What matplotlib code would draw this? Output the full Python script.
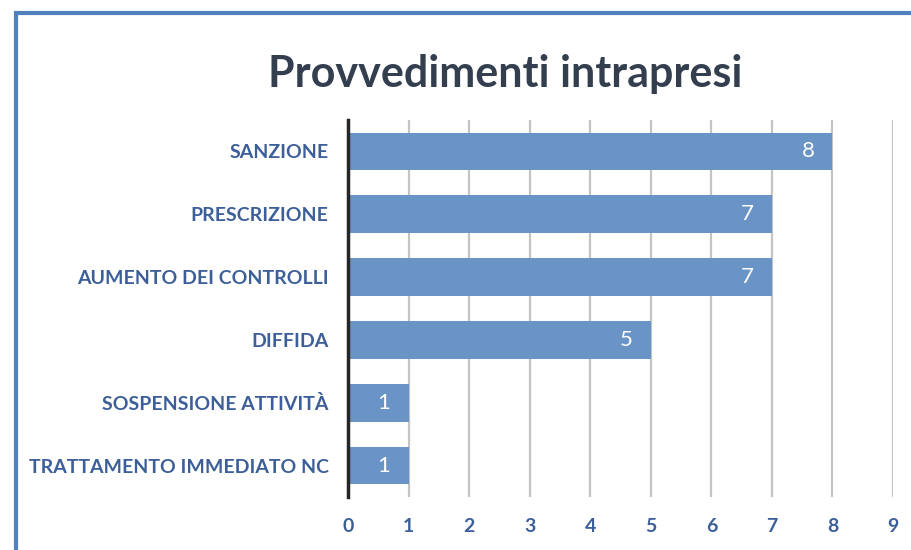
import matplotlib
matplotlib.use("Agg")
import matplotlib.pyplot as plt
from matplotlib.patches import Rectangle

categories = ["SANZIONE", "PRESCRIZIONE", "AUMENTO DEI CONTROLLI", "DIFFIDA",
              "SOSPENSIONE ATTIVITÀ", "TRATTAMENTO IMMEDIATO NC"]
values = [8, 7, 7, 5, 1, 1]
xticks = list(range(0, 10))
title = "Provvedimenti intrapresi"

bar_color = "#6A93C6"
label_color = "#3D5F99"
title_color = "#333F4F"

fig = plt.figure(figsize=(9.12, 5.5), dpi=100)
fig.patch.set_facecolor("white")

# outer frame
fig.patches.append(Rectangle((16/912, -0.1), 1.2, 1 - 13/550 + 0.1,
                             transform=fig.transFigure, fill=False,
                             edgecolor="#4F81BD", linewidth=3, zorder=0))

ax = fig.add_axes([348/912, 1 - 497/550, 545/912, 377/550])
ypos = list(range(len(categories)))
ax.barh(ypos, values, height=0.6, color=bar_color, zorder=3)
ax.set_ylim(len(categories) - 0.5, -0.5)
ax.set_xlim(0, 9)
ax.set_yticks(ypos)
ax.set_yticklabels(categories, fontfamily="Lato", fontweight="bold",
                   fontsize=14, color=label_color)
ax.set_xticks(xticks)
ax.set_xticklabels([str(t) for t in xticks], fontfamily="Lato",
                   fontweight="bold", fontsize=14, color=label_color)
ax.tick_params(axis="both", length=0)
ax.tick_params(axis="y", pad=14)
ax.tick_params(axis="x", pad=15)
ax.grid(axis="x", color="#C4C4C4", linewidth=1.6, zorder=0)
ax.set_axisbelow(True)
for s in ["top", "right", "bottom"]:
    ax.spines[s].set_visible(False)
ax.spines["left"].set_color("#262626")
ax.spines["left"].set_linewidth(2.5)
ax.spines["left"].set_zorder(5)

for y, v in zip(ypos, values):
    ax.annotate(str(v), xy=(v, y), xytext=(-13, 0), textcoords="offset points",
                ha="right", va="center", color="white", fontsize=16,
                fontfamily="Lato", zorder=6)

fig.text(505/912, 1 - 74/550, title, ha="center", va="center",
         fontsize=31, fontweight="bold", fontfamily="Lato", color=title_color)

fig.savefig("out.png", dpi=100)
